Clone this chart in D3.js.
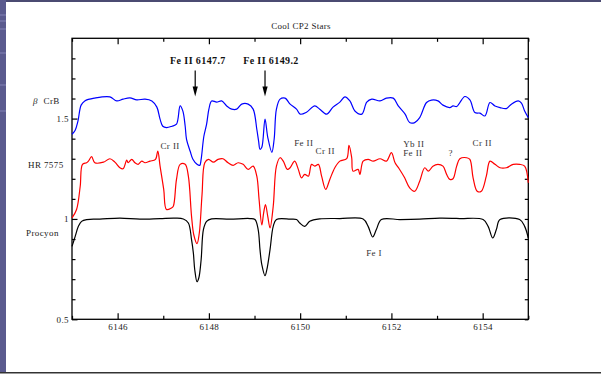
<!DOCTYPE html>
<html>
<head>
<meta charset="utf-8">
<script src="https://cdn.jsdelivr.net/npm/d3@7"></script>
<style>
  html, body { margin: 0; padding: 0; background: #fff; }
  svg { display: block; font-family: "Liberation Serif", "Times New Roman", serif; }
</style>
</head>
<body>
<svg id="chart" width="601" height="374"></svg>
<script>
// beta CrB (blue)
const betaWl = [6145.00, 6145.07, 6145.13, 6145.20, 6145.28, 6145.50, 6145.83, 6145.98, 6146.12, 6146.27,
  6146.42, 6146.60, 6146.75, 6146.86, 6146.93, 6146.99, 6147.07, 6147.19, 6147.29, 6147.37,
  6147.43, 6147.48, 6147.51, 6147.59, 6147.65, 6147.74, 6147.80, 6147.83, 6147.89, 6147.95,
  6148.00, 6148.06, 6148.17, 6148.28, 6148.39, 6148.50, 6148.61, 6148.72, 6148.86, 6148.97,
  6149.05, 6149.09, 6149.12, 6149.16, 6149.23, 6149.29, 6149.38, 6149.43, 6149.48, 6149.56,
  6149.67, 6149.78, 6149.92, 6150.00, 6150.14, 6150.32, 6150.43, 6150.58, 6150.72, 6150.87,
  6150.98, 6151.09, 6151.20, 6151.35, 6151.46, 6151.57, 6151.75, 6151.89, 6152.04, 6152.15,
  6152.30, 6152.40, 6152.51, 6152.62, 6152.77, 6152.88, 6153.02, 6153.13, 6153.28, 6153.35,
  6153.43, 6153.50, 6153.61, 6153.72, 6153.83, 6153.94, 6154.05, 6154.16, 6154.27, 6154.38,
  6154.52, 6154.63, 6154.78, 6154.85, 6154.92, 6155.00];
const betaFlux = [1.422, 1.442, 1.487, 1.567, 1.588, 1.602, 1.608, 1.588, 1.597, 1.603,
  1.593, 1.597, 1.588, 1.557, 1.497, 1.462, 1.455, 1.462, 1.472, 1.563,
  1.537, 1.463, 1.397, 1.337, 1.297, 1.272, 1.267, 1.297, 1.412, 1.472,
  1.547, 1.588, 1.582, 1.588, 1.563, 1.547, 1.547, 1.572, 1.572, 1.547,
  1.447, 1.387, 1.347, 1.357, 1.497, 1.407, 1.332, 1.397, 1.547, 1.597,
  1.602, 1.572, 1.547, 1.522, 1.532, 1.563, 1.547, 1.522, 1.557, 1.582,
  1.608, 1.588, 1.538, 1.522, 1.582, 1.597, 1.588, 1.602, 1.602, 1.563,
  1.522, 1.480, 1.480, 1.505, 1.580, 1.592, 1.588, 1.567, 1.555, 1.563,
  1.560, 1.580, 1.610, 1.593, 1.530, 1.527, 1.513, 1.580, 1.563, 1.555,
  1.550, 1.572, 1.588, 1.577, 1.538, 1.505];

// HR 7575 (red)
const hrWl = [6145.00, 6145.10, 6145.18, 6145.23, 6145.32, 6145.36, 6145.43, 6145.50, 6145.69, 6145.83,
  6145.94, 6146.05, 6146.12, 6146.20, 6146.23, 6146.31, 6146.38, 6146.45, 6146.53, 6146.60,
  6146.71, 6146.83, 6146.88, 6146.93, 6147.01, 6147.07, 6147.18, 6147.22, 6147.29, 6147.37,
  6147.48, 6147.55, 6147.62, 6147.67, 6147.74, 6147.79, 6147.85, 6147.91, 6147.99, 6148.10,
  6148.20, 6148.31, 6148.42, 6148.53, 6148.64, 6148.75, 6148.86, 6148.97, 6149.05, 6149.10,
  6149.16, 6149.20, 6149.24, 6149.29, 6149.34, 6149.41, 6149.48, 6149.56, 6149.63, 6149.72,
  6149.78, 6149.88, 6149.96, 6150.03, 6150.10, 6150.18, 6150.25, 6150.32, 6150.40, 6150.47,
  6150.56, 6150.65, 6150.76, 6150.87, 6151.02, 6151.07, 6151.13, 6151.16, 6151.27, 6151.31,
  6151.38, 6151.49, 6151.60, 6151.75, 6151.89, 6152.00, 6152.08, 6152.17, 6152.29, 6152.40,
  6152.51, 6152.62, 6152.73, 6152.81, 6152.91, 6153.02, 6153.13, 6153.21, 6153.28, 6153.35,
  6153.43, 6153.50, 6153.65, 6153.72, 6153.79, 6153.88, 6153.97, 6154.08, 6154.16, 6154.27,
  6154.38, 6154.52, 6154.67, 6154.81, 6154.92, 6155.00];
const hrFlux = [1.005, 1.047, 1.163, 1.272, 1.280, 1.288, 1.310, 1.280, 1.283, 1.300,
  1.283, 1.255, 1.250, 1.293, 1.280, 1.297, 1.280, 1.272, 1.288, 1.280,
  1.288, 1.297, 1.338, 1.263, 1.147, 1.047, 1.055, 1.063, 1.197, 1.272,
  1.272, 1.213, 1.013, 0.920, 0.877, 0.930, 1.122, 1.280, 1.297, 1.283,
  1.297, 1.300, 1.280, 1.267, 1.280, 1.272, 1.247, 1.263, 1.213, 1.097,
  0.970, 1.030, 1.072, 1.013, 0.955, 1.063, 1.263, 1.305, 1.288, 1.247,
  1.255, 1.288, 1.247, 1.205, 1.222, 1.213, 1.272, 1.263, 1.272, 1.213,
  1.147, 1.197, 1.255, 1.288, 1.300, 1.367, 1.305, 1.238, 1.247, 1.222,
  1.288, 1.297, 1.288, 1.300, 1.288, 1.330, 1.280, 1.250, 1.205, 1.155,
  1.138, 1.188, 1.255, 1.238, 1.263, 1.272, 1.263, 1.222, 1.197, 1.200,
  1.263, 1.300, 1.305, 1.297, 1.205, 1.138, 1.138, 1.213, 1.288, 1.272,
  1.255, 1.255, 1.272, 1.272, 1.263, 1.180];

// Procyon (black)
const procWl = [6145.00, 6145.07, 6145.14, 6145.21, 6145.32, 6145.61, 6146.05, 6146.49, 6146.93, 6147.26,
  6147.44, 6147.55, 6147.62, 6147.66, 6147.69, 6147.74, 6147.78, 6147.83, 6147.88, 6147.95,
  6148.06, 6148.46, 6148.90, 6149.01, 6149.08, 6149.12, 6149.16, 6149.23, 6149.27, 6149.34,
  6149.41, 6149.48, 6149.78, 6149.92, 6149.99, 6150.10, 6150.21, 6150.43, 6150.87, 6151.38,
  6151.49, 6151.59, 6151.67, 6151.78, 6152.19, 6152.62, 6153.06, 6153.50, 6154.01, 6154.12,
  6154.22, 6154.30, 6154.38, 6154.81, 6154.92, 6155.00];
const procFlux = [0.863, 0.913, 0.963, 0.988, 0.997, 0.999, 1.004, 0.999, 1.002, 1.004,
  1.000, 0.980, 0.897, 0.830, 0.747, 0.687, 0.707, 0.797, 0.947, 0.988,
  1.000, 0.999, 1.002, 0.997, 0.947, 0.847, 0.772, 0.717, 0.747, 0.847,
  0.963, 0.997, 0.999, 0.997, 0.980, 0.963, 0.988, 1.000, 1.002, 1.000,
  0.963, 0.910, 0.947, 0.997, 0.997, 0.999, 1.004, 1.002, 0.997, 0.963,
  0.905, 0.947, 0.997, 0.997, 0.963, 0.905];

const xMajorTicks = [6146, 6148, 6150, 6152, 6154];
const xMinorTicks = [6145, 6147, 6149, 6151, 6153, 6155];
const yMajorTicks = [0.5, 1, 1.5];
const yMinorTicks = [0.6, 0.7, 0.8, 0.9, 1.1, 1.2, 1.3, 1.4, 1.6, 1.7, 1.8];

// line labels: text, wavelength (centre), flux (baseline)
const lineLabels = [
  ["Cr II", 6147.15, 1.349],
  ["Fe II", 6150.08, 1.364],
  ["Cr II", 6150.55, 1.322],
  ["Yb II", 6152.49, 1.359],
  ["Fe II", 6152.47, 1.314],
  ["?", 6153.30, 1.314],
  ["Cr II", 6153.99, 1.362],
  ["Fe I", 6151.62, 0.817]
];
// label, arrow wavelength, label centre wavelength
const markedLines = [["Fe II 6147.7", 6147.7, 6147.76], ["Fe II 6149.2", 6149.23, 6149.36]];
const starNames = [["\u03B2", "CrB", 1.574], ["HR 7575", null, 1.256], ["Procyon", null, 0.916]];

const svg = d3.select("#chart");

// page frame (slide background)
svg.append("rect").attr("width", 601).attr("height", 374).attr("fill", "#fff");
svg.append("rect").attr("x", 0).attr("y", 0).attr("width", 601).attr("height", 2).attr("fill", "#4b4b72");
svg.append("rect").attr("x", 0).attr("y", 0).attr("width", 6).attr("height", 374).attr("fill", "#5a5a8e");
[14, 20, 28, 52, 84, 110].forEach(yy => {
  svg.append("rect").attr("x", 0).attr("y", yy).attr("width", 6).attr("height", 2).attr("fill", "#6e6ea2");
});
svg.append("rect").attr("x", 0).attr("y", 372).attr("width", 601).attr("height", 1).attr("fill", "#333");
svg.append("rect").attr("x", 0).attr("y", 373).attr("width", 601).attr("height", 1).attr("fill", "#999");

const plotLeft = 72, plotRight = 528.3, plotTop = 38.3, plotBottom = 319.3;

const x = d3.scaleLinear().domain([6145, 6155]).range([plotLeft, plotRight]);
const y = d3.scaleLinear().domain([0.5, 1.9]).range([plotBottom, plotTop]);

const g = svg.append("g");

function tickAxis(axis, transform, values, size, labels) {
  const a = g.append("g")
    .attr("transform", transform)
    .call(axis.tickValues(values).tickSize(size).tickPadding(3)
      .tickFormat(labels ? d3.format("") : ""));
  a.select(".domain").remove();
  a.selectAll("line").attr("stroke", "#000").attr("stroke-width", 1.2);
  a.selectAll("text")
    .attr("fill", "#222")
    .style("font-family", "'Liberation Serif', serif")
    .style("font-size", "9px")
    .style("letter-spacing", "0.4px");
  return a;
}

tickAxis(d3.axisBottom(x), `translate(0,${plotBottom})`, xMinorTicks, -3.5, false);
tickAxis(d3.axisBottom(x), `translate(0,${plotBottom})`, xMajorTicks, -6, true)
  .selectAll("text").attr("dy", "0.9em");
tickAxis(d3.axisTop(x), `translate(0,${plotTop})`, xMinorTicks, -3.5, false);
tickAxis(d3.axisTop(x), `translate(0,${plotTop})`, xMajorTicks, -6, false);
tickAxis(d3.axisLeft(y), `translate(${plotLeft},0)`, yMinorTicks, -3.5, false);
tickAxis(d3.axisLeft(y), `translate(${plotLeft},0)`, yMajorTicks, -5.5, true);
tickAxis(d3.axisRight(y), `translate(${plotRight},0)`, yMinorTicks.concat(yMajorTicks), -3.5, false);

g.append("rect")
  .attr("x", plotLeft).attr("y", plotTop)
  .attr("width", plotRight - plotLeft).attr("height", plotBottom - plotTop)
  .attr("fill", "none").attr("stroke", "#000").attr("stroke-width", 1.3);

const line = d3.line()
  .x(d => x(d[0]))
  .y(d => y(d[1]))
  .curve(d3.curveCatmullRom.alpha(0.5));

const series = [
  [d3.zip(procWl, procFlux), "#000"],
  [d3.zip(hrWl, hrFlux), "#ff0000"],
  [d3.zip(betaWl, betaFlux), "#0000ff"]
];
series.forEach(([pts, col]) => {
  g.append("path")
    .datum(pts)
    .attr("d", line)
    .attr("fill", "none")
    .attr("stroke", col)
    .attr("stroke-width", 1.2)
    .attr("stroke-linejoin", "round");
});

// title
g.append("text")
  .attr("x", x(6150.02)).attr("y", 29)
  .attr("text-anchor", "middle")
  .attr("fill", "#222")
  .style("font-size", "9px")
  .style("letter-spacing", "0.3px")
  .text("Cool CP2 Stars");

// marked lines with arrows
markedLines.forEach(([label, wl, labelWl]) => {
  const cx = x(wl);
  g.append("text")
    .attr("x", x(labelWl)).attr("y", y(1.774))
    .attr("text-anchor", "middle")
    .attr("fill", "#111")
    .attr("font-weight", "bold")
    .style("font-size", "10px")
    .style("letter-spacing", "0.4px")
    .text(label);
  g.append("line")
    .attr("x1", cx).attr("x2", cx)
    .attr("y1", y(1.74)).attr("y2", y(1.65))
    .attr("stroke", "#000").attr("stroke-width", 1.2);
  const tip = y(1.61);
  g.append("path")
    .attr("d", `M${cx - 2.6},${tip - 10}L${cx + 2.6},${tip - 10}L${cx},${tip}Z`)
    .attr("fill", "#000");
});

// line identifications
g.selectAll(".line-id")
  .data(lineLabels)
  .enter()
  .append("text")
  .attr("class", "line-id")
  .attr("x", d => x(d[1]))
  .attr("y", d => y(d[2]))
  .attr("text-anchor", "middle")
  .attr("fill", "#333")
  .style("font-size", "9px")
  .style("letter-spacing", "0.4px")
  .text(d => d[0]);

// star names left of the axis
const beta = g.append("text")
  .attr("x", 33).attr("y", y(starNames[0][2]))
  .attr("fill", "#222")
  .style("font-size", "9px");
beta.append("tspan").attr("font-style", "italic").text(starNames[0][0]);
beta.append("tspan").attr("dx", 6).style("letter-spacing", "0.4px").text(starNames[0][1]);

g.append("text")
  .attr("x", 28).attr("y", y(starNames[1][2]))
  .attr("fill", "#222")
  .style("font-size", "9px")
  .style("letter-spacing", "0.4px")
  .text(starNames[1][0]);

g.append("text")
  .attr("x", 26).attr("y", y(starNames[2][2]))
  .attr("fill", "#222")
  .style("font-size", "9px")
  .style("letter-spacing", "0.4px")
  .text(starNames[2][0]);
</script>
</body>
</html>
